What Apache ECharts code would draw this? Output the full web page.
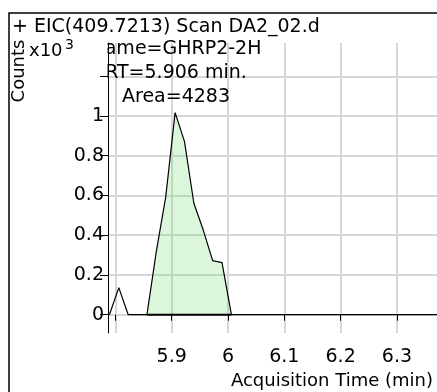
<!DOCTYPE html>
<html>
<head>
<meta charset="utf-8">
<script src="https://cdn.jsdelivr.net/npm/echarts@6/dist/echarts.min.js"></script>
<style>
html,body{margin:0;padding:0;background:#fff;}
#c{width:437px;height:392px;}
</style>
</head>
<body>
<div id="c"></div>
<script>
// ---- data (time in min, counts in x10^3) ----
var traceTimes  = [5.7893, 5.806, 5.8227, 5.8393, 5.856, 5.8727, 5.8893, 5.906, 5.9227, 5.9393, 5.956, 5.9727, 5.9893, 6.006, 6.39];
var traceCounts = [0,      0.136, 0,     0,      0,     0.32,   0.592,  1.017, 0.871,  0.561,  0.426, 0.272,  0.262,  0,     0];
var peakStart = 5.856;
var peakEnd = 6.006;
var xTickValues = [5.8, 5.9, 6.0, 6.1, 6.2, 6.3];
var xLabelValues = [5.9, 6.0, 6.1, 6.2, 6.3];
var yTickValues = [0, 0.2, 0.4, 0.6, 0.8, 1.0, 1.2];
var yLabelValues = [0, 0.2, 0.4, 0.6, 0.8, 1.0];
var titleText = '+ EIC(409.7213) Scan DA2_02.d';
var annotLines = ['Name=GHRP2-2H', 'RT=5.906 min.', 'Area=4283'];
var yAxisTitle = 'Counts';
var yScaleText = 'x10';
var yScaleExp = '3';
var xAxisTitle = 'Acquisition Time (min)';

var FONT = 'DejaVu Sans';
var Y_MIN = -0.0921, Y_MAX = 1.3674;

var trace = traceTimes.map(function (t, i) { return [t, traceCounts[i]]; });
var peak = trace.filter(function (p) { return p[0] >= peakStart - 1e-9 && p[0] <= peakEnd + 1e-9; });
var fmt = function (v) { return String(Math.round(v * 10) / 10); };

var chart = echarts.init(document.getElementById('c'), null, {renderer: 'canvas'});
var option = {
  animation: false,
  backgroundColor: '#fff',
  grid: {left: 108, top: 43, right: 0, bottom: 59, containLabel: false},
  xAxis: {
    type: 'value',
    min: 5.7868, max: 6.3712,
    offset: 3,
    axisLine: {show: false},
    axisTick: {show: true, length: 6, customValues: xTickValues, lineStyle: {color: '#000', width: 1}},
    axisLabel: {customValues: xLabelValues, margin: 12, fontFamily: FONT, fontSize: 19, color: '#000', formatter: fmt},
    splitLine: {show: true, lineStyle: {color: '#d6d6d6', width: 2}}
  },
  yAxis: [
    {
      type: 'value', min: Y_MIN, max: Y_MAX, position: 'left',
      z: 70,
      axisLine: {show: true, lineStyle: {color: '#000', width: 1}},
      axisTick: {show: true, length: 8, customValues: yTickValues, lineStyle: {color: '#000', width: 1}},
      axisLabel: {customValues: yLabelValues, margin: 4, fontFamily: FONT, fontSize: 19, color: '#000', formatter: fmt},
      splitLine: {show: false}
    },
    {
      type: 'value', min: Y_MIN, max: Y_MAX, position: 'right',
      z: 0,
      axisLine: {show: false},
      axisTick: {show: false, customValues: yTickValues},
      axisLabel: {show: false},
      splitLine: {show: true, lineStyle: {color: '#d6d6d6', width: 2}}
    }
  ],
  series: [
    {
      type: 'line', data: peak, symbol: 'none', z: 2,
      lineStyle: {width: 0, color: 'transparent'},
      areaStyle: {color: 'rgba(110,220,110,0.36)', origin: 0}
    },
    {
      type: 'line', data: trace, symbol: 'none', z: 3,
      lineStyle: {width: 1.2, color: '#000'}
    },
    {
      type: 'line', data: [[peakStart, 0], [peakEnd, 0]], symbol: 'none', z: 4,
      lineStyle: {width: 2, color: '#000'}
    }
  ],
  graphic: [
    {type: 'rect', z: 80, silent: true, shape: {x: 9, y: 13, width: 440, height: 400},
      style: {fill: 'none', stroke: '#000', lineWidth: 1.5}},
    {type: 'text', z: 50, x: 12, y: 27, style: {text: titleText, font: '19px "DejaVu Sans"', fill: '#000', textVerticalAlign: 'middle'}},
    {type: 'text', z: 50, x: 19, y: 71, rotation: Math.PI / 2, style: {text: yAxisTitle, font: '18px "DejaVu Sans"', fill: '#000', textAlign: 'center', textVerticalAlign: 'middle'}},
    {type: 'text', z: 50, x: 29, y: 51, style: {text: yScaleText, font: '18px "DejaVu Sans"', fill: '#000', textVerticalAlign: 'middle'}},
    {type: 'text', z: 50, x: 65, y: 45, style: {text: yScaleExp, font: '14px "DejaVu Sans"', fill: '#000', textVerticalAlign: 'middle'}},
    {type: 'text', z: 50, x: 176, y: 49, style: {text: annotLines[0], font: '19px "DejaVu Sans"', fill: '#000', textAlign: 'center', textVerticalAlign: 'middle'}},
    {type: 'text', z: 50, x: 176, y: 73, style: {text: annotLines[1], font: '19px "DejaVu Sans"', fill: '#000', textAlign: 'center', textVerticalAlign: 'middle'}},
    {type: 'text', z: 50, x: 176, y: 97, style: {text: annotLines[2], font: '19px "DejaVu Sans"', fill: '#000', textAlign: 'center', textVerticalAlign: 'middle'}},
    {type: 'rect', z: 60, silent: true, shape: {x: 82, y: 38, width: 25.5, height: 70}, style: {fill: '#fff'}},
    {type: 'text', z: 50, x: 433, y: 381, style: {text: xAxisTitle, font: '18px "DejaVu Sans"', fill: '#000', textAlign: 'right', textVerticalAlign: 'middle'}}
  ]
};
chart.setOption(option);
</script>
</body>
</html>
